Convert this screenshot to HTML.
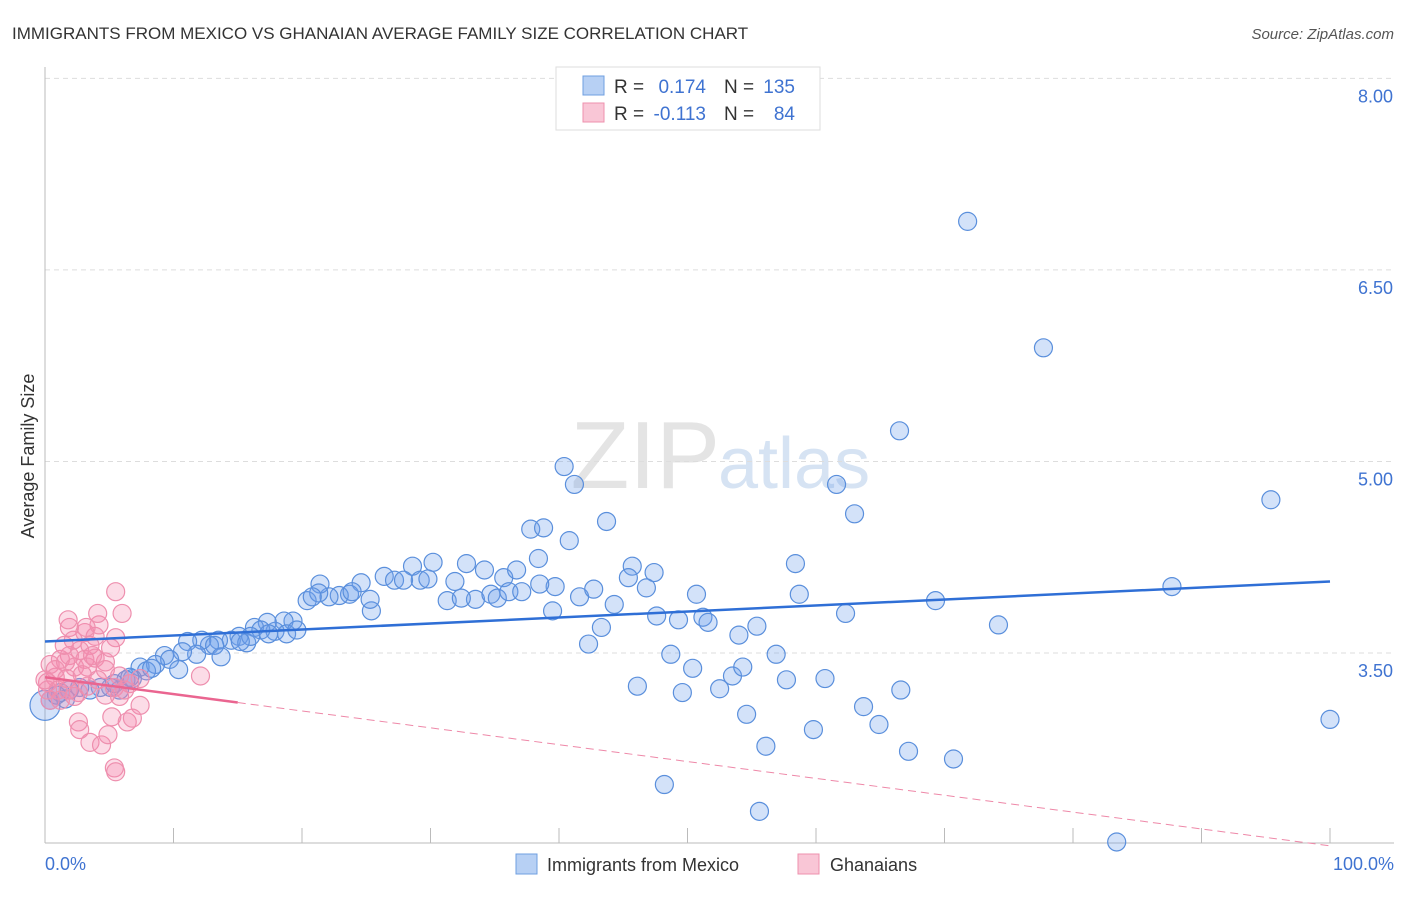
<!DOCTYPE html>
<html><head><meta charset="utf-8"><style>
body{margin:0;background:#fff;font-family:"Liberation Sans",sans-serif;}
svg text{font-family:"Liberation Sans",sans-serif;}
</style></head><body>
<svg id="c" width="1406" height="892" xmlns="http://www.w3.org/2000/svg">
<text x="12" y="39" font-size="17" fill="#333">IMMIGRANTS FROM MEXICO VS GHANAIAN AVERAGE FAMILY SIZE CORRELATION CHART</text>
<text x="1394" y="39" font-size="15" fill="#555" font-style="italic" text-anchor="end">Source: ZipAtlas.com</text>
<text x="720" y="488" font-size="96" fill="#e4e4e4" text-anchor="end" font-family="Liberation Serif">ZIP</text>
<text x="718" y="488" font-size="72" fill="#d6e3f3">atlas</text>
<text transform="translate(34,456) rotate(-90)" font-size="18" fill="#333" text-anchor="middle">Average Family Size</text>
<g id="grid"></g><g id="axes"></g><g id="pts"></g><g id="trend"></g>
<g>
<rect x="556" y="67" width="264" height="63" fill="#fff" stroke="#ddd"/>
<rect x="583" y="76" width="21" height="19" fill="#b7d0f4" stroke="#6f9fe0"/>
<rect x="583" y="103" width="21" height="19" fill="#f9c6d6" stroke="#ee90ad"/>
<text x="614" y="93" font-size="19" fill="#333">R =</text><text x="706" y="93" font-size="19" fill="#3f73d1" text-anchor="end">0.174</text>
<text x="724" y="93" font-size="19" fill="#333">N =</text><text x="795" y="93" font-size="19" fill="#3f73d1" text-anchor="end">135</text>
<text x="614" y="120" font-size="19" fill="#333">R =</text><text x="706" y="120" font-size="19" fill="#3f73d1" text-anchor="end">-0.113</text>
<text x="724" y="120" font-size="19" fill="#333">N =</text><text x="795" y="120" font-size="19" fill="#3f73d1" text-anchor="end">84</text>
</g>
<g>
<rect x="516" y="854" width="21" height="20" fill="#b7d0f4" stroke="#6f9fe0"/>
<text x="547" y="871" font-size="18" fill="#333">Immigrants from Mexico</text>
<rect x="798" y="854" width="21" height="20" fill="#f9c6d6" stroke="#ee90ad"/>
<text x="830" y="871" font-size="18" fill="#333">Ghanaians</text>
</g>
<text x="45" y="870" font-size="18" fill="#3f73d1">0.0%</text>
<text x="1394" y="870" font-size="18" fill="#3f73d1" text-anchor="end">100.0%</text>
</svg>
<script>
const yTicks=[8.0,6.5,5.0,3.5];
const yTickLabels=["8.00","6.50","5.00","3.50"];
const xTicks=[0,10,20,30,40,50,60,70,80,90,100];
const blueX=[71.8,77.7,66.5,40.4,41.2,61.6,63.0,95.4,43.7,37.8,38.8,40.8,38.4,58.4,45.7,47.4,45.4,87.7,69.3,74.2,50.7,58.7,39.7,41.6,42.7,44.3,46.8,39.5,43.3,47.6,49.3,51.2,51.6,62.3,55.4,54.0,42.3,48.7,56.9,50.4,53.5,54.3,46.1,49.6,52.5,57.7,60.7,66.6,54.6,63.7,64.9,59.8,56.1,67.2,70.7,48.2,55.6,83.4,100,
30.2,32.8,34.2,35.7,36.7,38.5,28.6,29.2,29.8,31.3,31.9,33.5,34.7,35.2,36.1,37.1,32.4,26.4,27.2,27.9,24.6,23.7,22.9,23.9,22.1,21.4,20.4,25.4,25.3,21.3,20.8,19.3,18.6,17.9,17.3,16.3,16.8,18.8,19.6,15.1,14.5,13.5,12.8,12.2,11.1,11.8,13.2,15.7,10.7,9.3,9.7,8.6,7.4,7.9,10.4,13.7,6.8,6.3,5.8,5.1,4.3,3.5,2.7,1.9,1.2,0.4,0,1.6,0.9,5.4,6.6,8.3,17.4,16.0,15.2];
const blueY=[6.88,5.89,5.24,4.96,4.82,4.82,4.59,4.70,4.53,4.47,4.48,4.38,4.24,4.20,4.18,4.13,4.09,4.02,3.91,3.72,3.96,3.96,4.02,3.94,4.00,3.88,4.01,3.83,3.70,3.79,3.76,3.78,3.74,3.81,3.71,3.64,3.57,3.49,3.49,3.38,3.32,3.39,3.24,3.19,3.22,3.29,3.30,3.21,3.02,3.08,2.94,2.90,2.77,2.73,2.67,2.47,2.26,2.02,2.98,
4.21,4.20,4.15,4.09,4.15,4.04,4.18,4.07,4.08,3.91,4.06,3.92,3.96,3.93,3.98,3.98,3.93,4.10,4.07,4.07,4.05,3.96,3.95,3.98,3.94,4.04,3.91,3.83,3.92,3.97,3.94,3.75,3.75,3.67,3.74,3.70,3.68,3.65,3.68,3.63,3.60,3.60,3.56,3.60,3.59,3.49,3.56,3.58,3.51,3.48,3.45,3.41,3.39,3.36,3.37,3.47,3.30,3.29,3.21,3.23,3.23,3.21,3.23,3.21,3.19,3.13,3.09,3.14,3.17,3.26,3.31,3.38,3.65,3.63,3.59];
const pinkX=[5.5,1.9,3.1,3.9,4.2,1.8,6.0,4.1,5.5,3.5,2.7,1.9,1.2,0.4,1.6,2.3,3.1,3.9,4.7,5.1,4.7,3.3,0.8,0.2,1.0,1.8,2.6,3.3,4.1,5.8,7.4,12.1,0.4,1.2,2.3,4.7,5.4,6.6,5.8,7.4,5.2,6.4,2.6,2.7,3.5,4.4,4.9,6.8,6.2,5.4,5.5,0.2,0.8,0,1.5,2.2,3.2,3.7,2.9,1.7];
const pinkY=[3.98,3.70,3.66,3.63,3.72,3.76,3.81,3.81,3.62,3.56,3.52,3.48,3.45,3.41,3.43,3.39,3.45,3.46,3.43,3.54,3.37,3.39,3.31,3.27,3.21,3.21,3.19,3.24,3.29,3.32,3.30,3.32,3.13,3.13,3.16,3.17,3.23,3.26,3.16,3.09,3.00,2.96,2.96,2.90,2.80,2.78,2.86,2.99,3.21,2.60,2.57,3.21,3.37,3.29,3.56,3.60,3.70,3.48,3.33,3.30];
const blueTrend=[3.59,4.06]; // value at 0% and 100%
const pinkTrend=[3.31,1.99];
const pinkSolidEnd=15;
const NS="http://www.w3.org/2000/svg";
const X=v=>45+v*12.85, Y=v=>653-(v-3.5)*127.7;
function mk(t,a,p){const e=document.createElementNS(NS,t);for(const k in a)e.setAttribute(k,a[k]);document.getElementById(p).appendChild(e);return e;}
yTicks.forEach((t,i)=>{
 const l=mk('line',{x1:45,x2:1394,y1:Y(t),y2:Y(t),stroke:'#ddd','stroke-dasharray':'5,4'},'grid');
 
 
 const tx=mk('text',{x:1393,y:Y(t)+24,'font-size':18,fill:'#3f73d1','text-anchor':'end'},'grid');
 tx.textContent=yTickLabels[i];
 
 
});
const ax=mk('line',{x1:45,x2:45,y1:67,y2:843,stroke:'#bbb'},'axes');


const bx=mk('line',{x1:45,x2:1394,y1:843,y2:843,stroke:'#bbb'},'axes');


xTicks.forEach(t=>{
 const l=mk('line',{x1:X(t),x2:X(t),y1:828,y2:843,stroke:'#bbb'},'axes');
 
 
});
blueX.forEach((x,i)=>{
 const c=mk('circle',{cx:X(x),cy:Y(blueY[i]),r:(x===0?15:9),fill:'rgba(110,160,235,0.3)',stroke:'#5a8fdc','stroke-width':1.2},'pts');
 
 
});
pinkX.forEach((x,i)=>{
 const c=mk('circle',{cx:X(x),cy:Y(pinkY[i]),r:9,fill:'rgba(245,140,175,0.3)',stroke:'#ee8fae','stroke-width':1.2},'pts');
 
 
});
const bt=mk('line',{x1:X(0),y1:Y(blueTrend[0]),x2:X(100),y2:Y(blueTrend[1]),stroke:'#2f6fd6','stroke-width':2.5},'trend');


const pv=x=>pinkTrend[0]+(pinkTrend[1]-pinkTrend[0])*x/100;
const pt=mk('line',{x1:X(0),y1:Y(pv(0)),x2:X(pinkSolidEnd),y2:Y(pv(pinkSolidEnd)),stroke:'#ea6590','stroke-width':2.5},'trend');


const pd=mk('line',{x1:X(pinkSolidEnd),y1:Y(pv(pinkSolidEnd)),x2:X(100),y2:Y(pv(100)),stroke:'#ee88a8','stroke-width':1,'stroke-dasharray':'8,5'},'trend');


</script>
</body></html>
